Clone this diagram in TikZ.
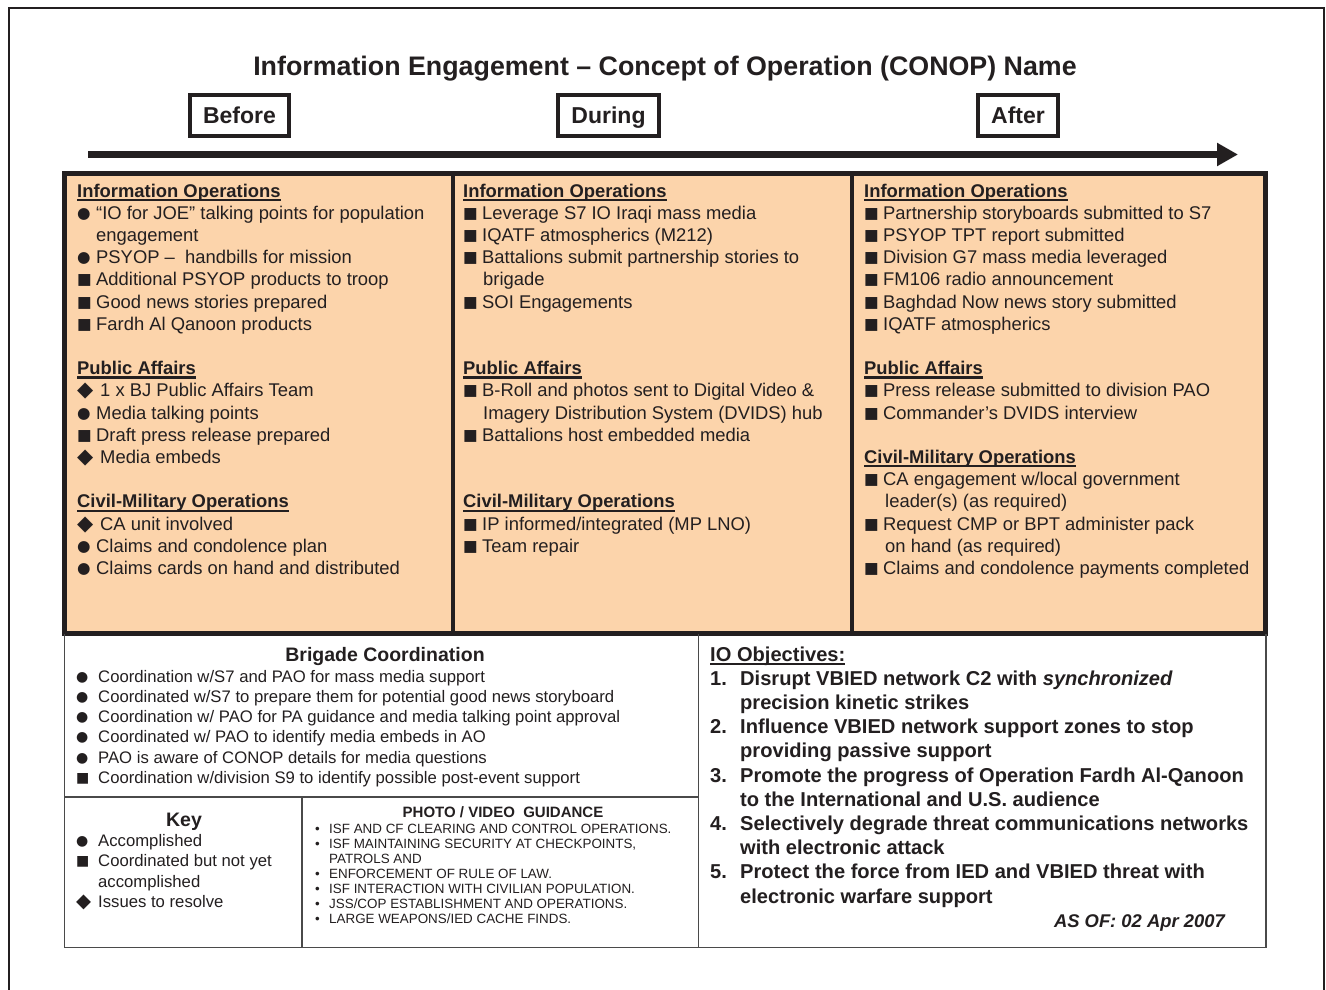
\documentclass[tikz,border=0pt]{standalone}
\usepackage{fontspec}
\setmainfont{Liberation Sans}
\newfontfamily\symf{DejaVu Sans}
\usetikzlibrary{arrows.meta}
\definecolor{peach}{HTML}{FCD4AB}
\definecolor{ink}{HTML}{231F20}
\definecolor{rulec}{HTML}{4A4A4A}
\def\gsz{15}
\def\dsz{21}
\newcommand\gc{\raisebox{1pt}{\symf\fontsize{\gsz}{\gsz}\selectfont ●}}
\newcommand\gs{\raisebox{1pt}{\symf\fontsize{\gsz}{\gsz}\selectfont ■}}
\newcommand\gd{{\symf\fontsize{\dsz}{\dsz}\selectfont ◆}}
\newcommand\ul[1]{\setbox0\hbox{#1}\rlap{\rule[-4pt]{\wd0}{2.2pt}}\box0}
\newcommand\blk[1]{\vtop{\lineskiplimit=-1000pt\lineskip=0pt\relax #1}}
\newcommand\hd[1]{\hbox{\bfseries\ul{#1}}}
\newcommand\li[3]{\hbox{\hbox to #1{#2\hss}#3}}
\newcommand\ct[2]{\hbox{\hskip #1\relax #2}}
\newcommand\gap{\hbox{}}
\tikzset{
  every node/.style={inner sep=0pt, text=ink},
  phase/.style={draw=ink, line width=4pt, fill=white, text height=17pt, text depth=0pt,
    font=\bfseries\fontsize{23}{26}\selectfont, minimum height=41pt},
  panel/.style={anchor=base west, font=\fontsize{18.4}{22.2}\selectfont\def\gsz{15.5}\def\dsz{21}},
  small/.style={anchor=base west, font=\fontsize{16.7}{20.25}\selectfont\def\gsz{14}\def\dsz{19.5}},
  thin/.style={draw=rulec, line width=1.5pt}
}
\begin{document}
\begin{tikzpicture}[x=1pt,y=-1pt]
\useasboundingbox (0,0) rectangle (1326,990);
\fill[white] (0,0) rectangle (1326,990);
% outer frame
\draw[ink, line width=2pt] (8.5,990) -- (8.5,8.5) -- (1323.5,8.5) -- (1323.5,990);
% title
\node[anchor=base, font=\bfseries\fontsize{26.8}{30}\selectfont] (title) at (665,76)
  {Information Engagement – Concept of Operation (CONOP) Name};
% phases
\node[phase, minimum width=99pt] (before) at (239.5,115.5) {Before};
\node[phase, minimum width=101pt] (during) at (608.5,115.5) {During};
\node[phase, minimum width=80pt] (after) at (1018,115.5) {After};
% timeline arrow
\coordinate (arrS) at (88,154.5);
\coordinate (arrE) at (1238,154.5);
\draw[ink, line width=7pt, -{Triangle[length=21pt,width=22pt]}] (arrS) -- (arrE);
% orange panels
\fill[peach] (64.5,173) rectangle (1265,633.5);
\draw[ink, line width=4.5pt] (453,173) -- (453,633.5);
\draw[ink, line width=4.5pt] (852,173) -- (852,633.5);
\draw[ink, line width=5pt] (64.5,173) rectangle (1265,633.5);
% lower frame
\draw[thin] (64.5,633.5) -- (64.5,947.5) -- (1266,947.5) -- (1266,633.5);
\draw[thin] (698.5,633.5) -- (698.5,947.5);
\draw[thin] (64.5,797) -- (698.5,797);
\draw[thin] (302,797) -- (302,947.5);

% panel 1
\node[panel] (p1) at (77,197) {\blk{%
\hd{Information Operations}
\li{19pt}{\gc}{“IO for JOE” talking points for population}
\ct{19pt}{engagement}
\li{19pt}{\gc}{PSYOP –\ \ handbills for mission}
\li{19pt}{\gs}{Additional PSYOP products to troop}
\li{19pt}{\gs}{Good news stories prepared}
\li{19pt}{\gs}{Fardh Al Qanoon products}
\gap
\hd{Public Affairs}
\li{23pt}{\gd}{1 x BJ Public Affairs Team}
\li{19pt}{\gc}{Media talking points}
\li{19pt}{\gs}{Draft press release prepared}
\li{23pt}{\gd}{Media embeds}
\gap
\hd{Civil-Military Operations}
\li{23pt}{\gd}{CA unit involved}
\li{19pt}{\gc}{Claims and condolence plan}
\li{19pt}{\gc}{Claims cards on hand and distributed}
}};
% panel 2
\node[panel] (p2) at (463,197) {\blk{%
\hd{Information Operations}
\li{19pt}{\gs}{Leverage S7 IO Iraqi mass media}
\li{19pt}{\gs}{IQATF atmospherics (M212)}
\li{19pt}{\gs}{Battalions submit partnership stories to}
\ct{20pt}{brigade}
\li{19pt}{\gs}{SOI Engagements}
\gap
\gap
\hd{Public Affairs}
\li{19pt}{\gs}{B-Roll and photos sent to Digital Video \&}
\ct{20pt}{Imagery Distribution System (DVIDS) hub}
\li{19pt}{\gs}{Battalions host embedded media}
\gap
\gap
\hd{Civil-Military Operations}
\li{19pt}{\gs}{IP informed/integrated (MP LNO)}
\li{19pt}{\gs}{Team repair}
}};
% panel 3
\node[panel] (p3) at (864,197) {\blk{%
\hd{Information Operations}
\li{19pt}{\gs}{Partnership storyboards submitted to S7}
\li{19pt}{\gs}{PSYOP TPT report submitted}
\li{19pt}{\gs}{Division G7 mass media leveraged}
\li{19pt}{\gs}{FM106 radio announcement}
\li{19pt}{\gs}{Baghdad Now news story submitted}
\li{19pt}{\gs}{IQATF atmospherics}
\gap
\hd{Public Affairs}
\li{19pt}{\gs}{Press release submitted to division PAO}
\li{19pt}{\gs}{Commander’s DVIDS interview}
\gap
\hd{Civil-Military Operations}
\li{19pt}{\gs}{CA engagement w/local government}
\ct{21pt}{leader(s) (as required)}
\li{19pt}{\gs}{Request CMP or BPT administer pack}
\ct{21pt}{on hand (as required)}
\li{19pt}{\gs}{Claims and condolence payments completed}
}};

% brigade coordination
\node[anchor=base, font=\bfseries\fontsize{19.5}{22}\selectfont] (brig) at (385,661) {Brigade Coordination};
\node[small] (brigl) at (76,682) {\blk{%
\li{22pt}{\gc}{Coordination w/S7 and PAO for mass media support}
\li{22pt}{\gc}{Coordinated w/S7 to prepare them for potential good news storyboard}
\li{22pt}{\gc}{Coordination w/ PAO for PA guidance and media talking point approval}
\li{22pt}{\gc}{Coordinated w/ PAO to identify media embeds in AO}
\li{22pt}{\gc}{PAO is aware of CONOP details for media questions}
\li{22pt}{\gs}{Coordination w/division S9 to identify possible post-event support}
}};

% key
\node[anchor=base, font=\bfseries\fontsize{19.5}{22}\selectfont] (key) at (184,826) {Key};
\node[small] (keyl) at (76,846.7) {\blk{%
\li{22pt}{\gc}{Accomplished}
\li{22pt}{\gs}{Coordinated but not yet}
\ct{22pt}{accomplished}
\li{22pt}{\gd}{Issues to resolve}
}};

% photo / video guidance
\node[anchor=base, font=\bfseries\fontsize{15}{17}\selectfont] (photo) at (503,817.3) {PHOTO / VIDEO\ \ GUIDANCE};
\node[anchor=base west, font=\fontsize{13.4}{15}\selectfont] (photol) at (315,833.3) {\blk{%
\li{14pt}{•}{ISF AND CF CLEARING AND CONTROL OPERATIONS.}
\li{14pt}{•}{ISF MAINTAINING SECURITY AT CHECKPOINTS,}
\ct{14pt}{PATROLS AND}
\li{14pt}{•}{ENFORCEMENT OF RULE OF LAW.}
\li{14pt}{•}{ISF INTERACTION WITH CIVILIAN POPULATION.}
\li{14pt}{•}{JSS/COP ESTABLISHMENT AND OPERATIONS.}
\li{14pt}{•}{LARGE WEAPONS/IED CACHE FINDS.}
}};

% IO objectives
\node[anchor=base west, font=\bfseries\fontsize{20.1}{24.2}\selectfont] (obj) at (710,661) {\blk{%
\hd{IO Objectives:}
\li{30pt}{1.}{Disrupt VBIED network C2 with \textit{synchronized}}
\ct{30pt}{precision kinetic strikes}
\li{30pt}{2.}{Influence VBIED network support zones to stop}
\ct{30pt}{providing passive support}
\li{30pt}{3.}{Promote the progress of Operation Fardh Al-Qanoon}
\ct{30pt}{to the International and U.S. audience}
\li{30pt}{4.}{Selectively degrade threat communications networks}
\ct{30pt}{with electronic attack}
\li{30pt}{5.}{Protect the force from IED and VBIED threat with}
\ct{30pt}{electronic warfare support}
}};
\node[anchor=base east, font=\bfseries\itshape\fontsize{18.4}{22}\selectfont] (asof) at (1225,927) {AS OF: 02 Apr 2007};
\end{tikzpicture}
\end{document}
